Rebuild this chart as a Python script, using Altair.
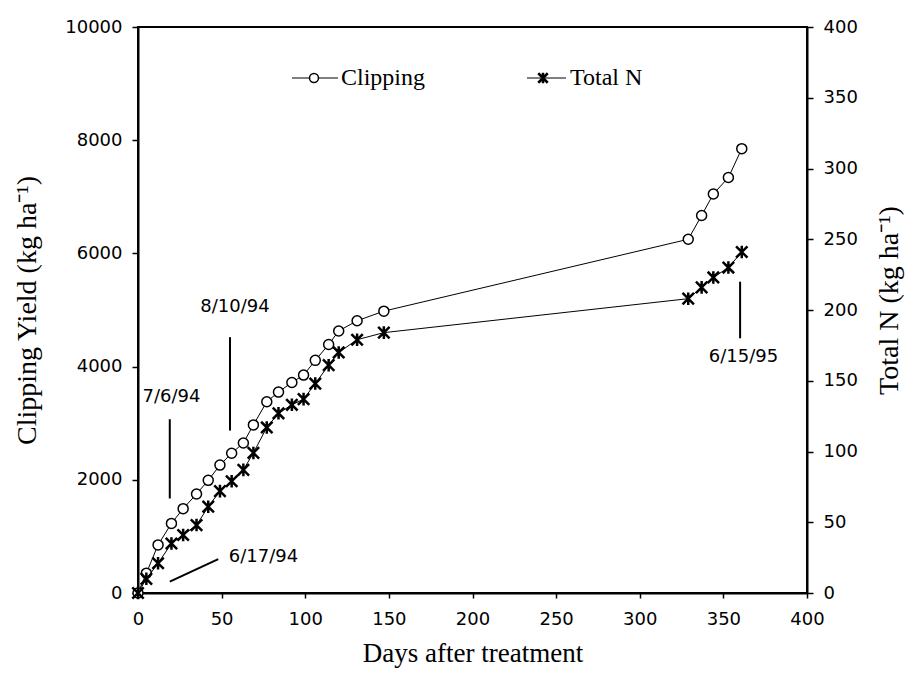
import altair as alt
import pandas as pd

# ---- data ----
days = [0, 5, 12, 20, 27, 35, 42, 49, 56, 63, 69, 77, 84, 92, 99, 106, 114, 120, 131, 147,
        329, 337, 344, 353, 361]
clipping = [0, 350, 850, 1230, 1490, 1750, 1990, 2260, 2470, 2650, 2970, 3380, 3550, 3720,
            3850, 4110, 4390, 4630, 4810, 4980, 6250, 6670, 7050, 7340, 7850]
total_n = [0, 10, 21, 35, 41, 48, 61, 72, 79, 87, 99, 117, 127, 133, 137, 148, 161, 170,
           179, 184, 208, 216, 223, 230, 241]

x_ticks = list(range(0, 401, 50))
left_ticks = list(range(0, 10001, 2000))
right_ticks = list(range(0, 401, 50))

note_labels = ["7/6/94", "8/10/94", "6/17/94", "6/15/95"]
note_text_day = [20, 58, 75, 362]
note_text_yield = [3460, 5060, 640, 4170]
mark_day_start = [19, 55, 360, 19]
mark_day_end = [19, 55, 360, 48]
mark_yield_start = [1670, 2870, 4500, 200]
mark_yield_end = [3070, 4520, 5500, 600]

legend_names = ["Clipping", "Total N"]

# ---- styling ----
W, H = 669, 566
SANS = "DejaVu Sans"
SERIF = "Liberation Serif"
STAR = "M-1,-1L1,1M1,-1L-1,1M0,-1.1L0,1.1"

df = pd.DataFrame({"day": days, "clip": clipping, "n": total_n})
notes = pd.DataFrame({"label": note_labels, "tx": note_text_day, "ty": note_text_yield})
marks = pd.DataFrame({"x0": mark_day_start, "x1": mark_day_end,
                      "y0": mark_yield_start, "y1": mark_yield_end})
dummy = pd.DataFrame({"k": [0]})

xscale = alt.Scale(domain=[0, 400], nice=False)
lscale = alt.Scale(domain=[0, 10000], nice=False)
rscale = alt.Scale(domain=[0, 400], nice=False)

common = dict(grid=False, tickColor="black", tickWidth=1.5, domainColor="black",
              domainWidth=2, labelFont=SANS, labelFontSize=18, labelColor="black",
              labelOverlap=False, titleFont=SERIF, titleFontWeight="normal",
              titleColor="black", format="d")

X_TITLE = "Days after treatment"
L_TITLE = "Clipping Yield (kg ha⁻¹)"
R_TITLE = "Total N (kg ha⁻¹)"

x_axis = alt.Axis(values=x_ticks, tickSize=5, labelPadding=12, labelFlush=False,
                  titleFontSize=27, titleY=60, titleBaseline="middle", **common)
left_axis = alt.Axis(orient="left", values=left_ticks, tickSize=6, labelPadding=10,
                     titleFontSize=28, titleX=-111, titleY=H / 2, titleAngle=270,
                     titleAlign="center", titleBaseline="middle", **common)
right_axis = alt.Axis(orient="right", values=right_ticks, tickSize=6, labelPadding=10,
                      titleFontSize=28, titleX=82, titleY=H / 2 - 10, titleAngle=270,
                      titleAlign="center", titleBaseline="middle", **common)


def X(field):
    return alt.X(field, scale=xscale, axis=x_axis, title=X_TITLE)


def YL(field):
    return alt.Y(field, scale=lscale, axis=left_axis, title=L_TITLE)


def YR(field):
    return alt.Y(field, scale=rscale, axis=right_axis, title=R_TITLE)


base = alt.Chart(df)

clip_line = base.mark_line(color="black", strokeWidth=1).encode(
    x=X("day:Q"), y=YL("clip:Q"))
clip_pts = base.mark_point(shape="circle", filled=True, fill="white", stroke="black",
                           strokeWidth=1.5, size=100, opacity=1).encode(
    x=X("day:Q"), y=YL("clip:Q"))

note_rules = alt.Chart(marks).mark_rule(color="black", strokeWidth=2).encode(
    x=X("x0:Q"), x2="x1:Q", y=YL("y0:Q"), y2="y1:Q")
note_text = alt.Chart(notes).mark_text(font=SANS, fontSize=18, color="black",
                                       align="center", baseline="middle").encode(
    x=X("tx:Q"), y=YL("ty:Q"), text="label:N")

# legend (drawn inside the plot, top)
leg_y = 51
leg1_line = alt.Chart(dummy).mark_rule(color="black", strokeWidth=1.2).encode(
    x=alt.value(154), x2=alt.value(200), y=alt.value(leg_y))
leg1_pt = alt.Chart(dummy).mark_point(shape="circle", filled=True, fill="white",
                                      stroke="black", strokeWidth=1.5, size=80,
                                      opacity=1).encode(
    x=alt.value(176), y=alt.value(leg_y))
leg1_txt = alt.Chart(dummy).mark_text(font=SERIF, fontSize=24, color="black",
                                      align="left", baseline="middle").encode(
    x=alt.value(203), y=alt.value(leg_y), text=alt.value(legend_names[0]))
leg2_line = alt.Chart(dummy).mark_rule(color="black", strokeWidth=1.2).encode(
    x=alt.value(389), x2=alt.value(428), y=alt.value(leg_y))
leg2_pt = alt.Chart(dummy).mark_point(shape=STAR, filled=False, stroke="black",
                                      strokeWidth=2.5, size=90, opacity=1).encode(
    x=alt.value(405), y=alt.value(leg_y))
leg2_txt = alt.Chart(dummy).mark_text(font=SERIF, fontSize=24, color="black",
                                      align="left", baseline="middle").encode(
    x=alt.value(432), y=alt.value(leg_y), text=alt.value(legend_names[1]))

left = alt.layer(clip_line, note_rules, note_text, clip_pts,
                 leg1_line, leg1_pt, leg1_txt, leg2_line, leg2_pt, leg2_txt)

n_line = base.mark_line(color="black", strokeWidth=1).encode(
    x=X("day:Q"), y=YR("n:Q"))
n_pts = base.mark_point(shape=STAR, filled=False, stroke="black", strokeWidth=2.5,
                        size=130, opacity=1).encode(
    x=X("day:Q"), y=YR("n:Q"))
right = alt.layer(n_line, n_pts)

chart = (
    alt.layer(left, right)
    .resolve_scale(y="independent")
    .properties(width=W, height=H, autosize="none",
                padding={"left": 130, "top": 19, "right": 98, "bottom": 75},
                background="white")
    .configure_view(stroke="black", strokeWidth=2)
)

chart.save("out.html", embed_options={"renderer": "svg", "actions": False})
